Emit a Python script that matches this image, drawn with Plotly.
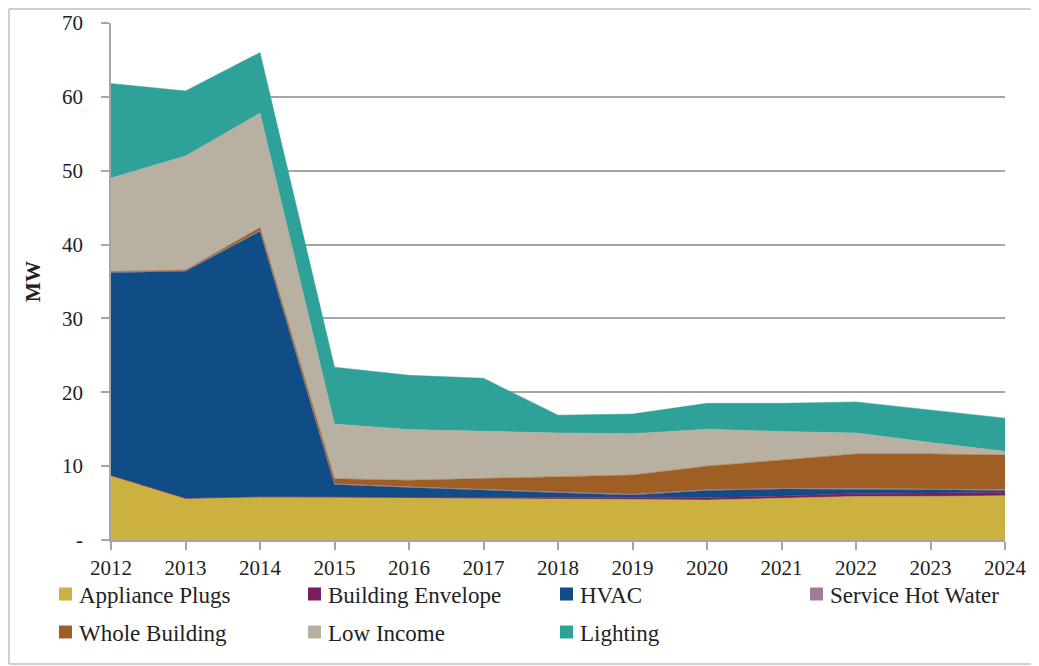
import plotly.graph_objects as go

years = [2012, 2013, 2014, 2015, 2016, 2017, 2018, 2019, 2020, 2021, 2022, 2023, 2024]

appliance_plugs = [8.7, 5.6, 5.8, 5.8, 5.7, 5.6, 5.6, 5.5, 5.4, 5.6, 5.9, 5.9, 6.0]
building_envelope = [0.05, 0.05, 0.05, 0.05, 0.1, 0.15, 0.2, 0.3, 0.35, 0.35, 0.4, 0.45, 0.45]
hvac = [27.45, 30.75, 35.95, 1.65, 1.3, 0.95, 0.6, 0.3, 0.95, 0.95, 0.6, 0.45, 0.25]
service_hot_water = [0.1, 0.1, 0.1, 0.1, 0.1, 0.1, 0.1, 0.1, 0.1, 0.1, 0.1, 0.1, 0.1]
whole_building = [0.05, 0.05, 0.4, 0.7, 0.9, 1.5, 2.0, 2.6, 3.2, 3.8, 4.65, 4.75, 4.7]
low_income = [12.65, 15.45, 15.5, 7.4, 6.85, 6.4, 6.0, 5.6, 5.0, 3.9, 2.85, 1.55, 0.5]
lighting = [12.8, 8.8, 8.2, 7.7, 7.35, 7.2, 2.4, 2.65, 3.5, 3.8, 4.2, 4.4, 4.5]

series_names = ["Appliance Plugs", "Building Envelope", "HVAC", "Service Hot Water",
                "Whole Building", "Low Income", "Lighting"]
series_values = [appliance_plugs, building_envelope, hvac, service_hot_water,
                 whole_building, low_income, lighting]
colors = ["#CBB13F", "#7B1E5F", "#104C86", "#A07C9A", "#9F5F24", "#B8B1A1", "#2EA198"]

y_tickvals = [0, 10, 20, 30, 40, 50, 60, 70]
y_ticktext = ["-", "10", "20", "30", "40", "50", "60", "70"]

FONT = "Liberation Serif"
GRID = "#A6A6A6"
TXT = "#222222"

# the page body adds an 8px offset; work in page pixels and subtract it
OFF = 8
W, H = 1039 - OFF, 666 - OFF
PL, PR, PT, PB = 111 - OFF, 1005 - OFF, 23 - OFF, 540 - OFF
PW, PH = PR - PL, PB - PT

def px(x):  # page pixel -> paper x
    return (x - OFF - PL) / PW

def py(y):  # page pixel -> paper y
    return (PB - (y - OFF)) / PH

fig = go.Figure()
for name, vals, col in zip(series_names, series_values, colors):
    fig.add_trace(go.Scatter(
        x=years, y=vals, name=name, mode="lines", stackgroup="one",
        line=dict(width=0.5, color=col), fillcolor=col, showlegend=False,
        hoverinfo="x+y+name"))

# legend: one small legend per entry (text only), squares drawn as shapes
legend_text_x = [80, 329, 581, 831, 80, 329, 581]
legend_rows = [594, 594, 594, 594, 632, 632, 632]
legend_layouts = {}
for i, (name, col) in enumerate(zip(series_names, colors)):
    lid = "legend" if i == 0 else f"legend{i + 1}"
    fig.add_trace(go.Scatter(
        x=[None], y=[None], name=name, mode="markers",
        marker=dict(symbol="square", size=1, color="rgba(0,0,0,0)"),
        legend=lid, showlegend=True))
    legend_layouts[lid] = dict(
        orientation="h", x=px(legend_text_x[i] - 41), y=py(legend_rows[i]),
        xanchor="left", yanchor="middle", itemwidth=30,
        font=dict(family=FONT, size=23, color=TXT), bgcolor="rgba(0,0,0,0)",
        traceorder="normal")
    sx = legend_text_x[i] - 21
    fig.add_shape(type="rect", xref="paper", yref="paper",
                  x0=px(sx), x1=px(sx + 13), y0=py(legend_rows[i] + 6.5), y1=py(legend_rows[i] - 6.5),
                  line=dict(width=0), fillcolor=col)

fig.update_layout(
    width=W, height=H,
    margin=dict(l=PL, r=W - PR, t=PT, b=H - PB, autoexpand=False),
    paper_bgcolor="white", plot_bgcolor="white",
    font=dict(family=FONT, size=21, color=TXT),
    xaxis=dict(range=[2012, 2024], tickvals=years, ticktext=[str(y) for y in years],
               showgrid=False, zeroline=False, showline=True, linecolor=GRID, linewidth=1.5,
               ticks="outside", ticklen=8, tickcolor=GRID, tickwidth=1.5,
               tickfont=dict(family=FONT, size=21, color=TXT),
               ticklabelstandoff=0, fixedrange=True),
    yaxis=dict(range=[0, 70], tickvals=y_tickvals, ticktext=y_ticktext,
               showgrid=True, gridcolor=GRID, gridwidth=1.5, zeroline=False,
               showline=True, linecolor=GRID, linewidth=1.5,
               ticks="outside", ticklen=8, tickcolor=GRID, tickwidth=1.5,
               tickfont=dict(family=FONT, size=21, color=TXT),
               ticklabelstandoff=14,
               title=dict(text="<b>MW</b>", font=dict(family=FONT, size=21, color=TXT),
                          standoff=16),
               fixedrange=True),
    showlegend=True,
    **legend_layouts,
)

# outer chart frame (left, top, bottom edges)
FRAME = "#BFBFBF"
fl, ft, fb = px(9), py(9), py(664)
fig.add_shape(type="line", xref="paper", yref="paper", x0=fl, x1=fl, y0=fb, y1=ft,
              line=dict(color=FRAME, width=1.5), layer="below")
fig.add_shape(type="line", xref="paper", yref="paper", x0=fl, x1=px(1045), y0=ft, y1=ft,
              line=dict(color=FRAME, width=1.5), layer="below")
fig.add_shape(type="line", xref="paper", yref="paper", x0=fl, x1=px(1045), y0=fb, y1=fb,
              line=dict(color=FRAME, width=1.5), layer="below")

fig.write_html("out.html")
